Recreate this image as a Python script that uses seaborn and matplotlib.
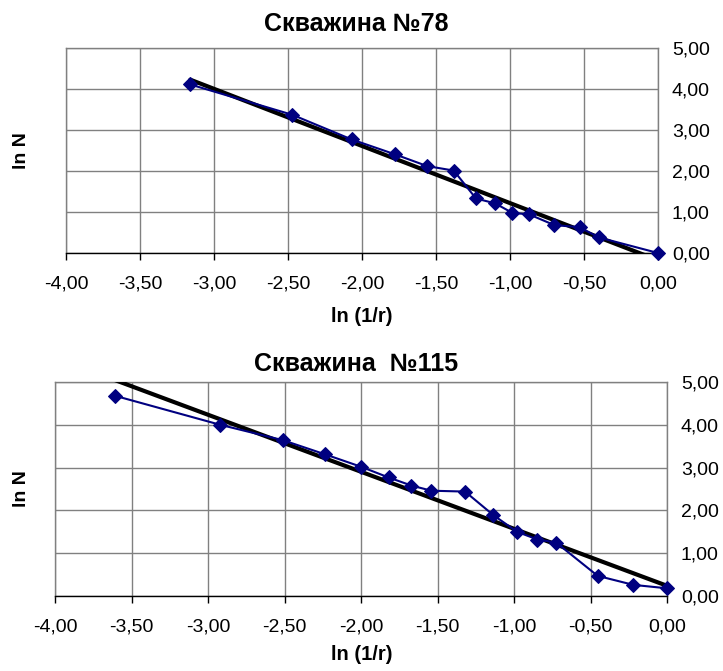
import numpy as np
import pandas as pd
import matplotlib
matplotlib.use("Agg")
import matplotlib.pyplot as plt
import seaborn as sns
from matplotlib.ticker import FuncFormatter

sns.set_style("white")
plt.rcParams['font.family'] = ['Liberation Sans', 'DejaVu Sans']
plt.rcParams['text.color'] = 'black'
plt.rcParams['xtick.color'] = 'black'
plt.rcParams['ytick.color'] = 'black'

# Well 78
x78 = [-3.16, -2.47, -2.07, -1.78, -1.56, -1.38, -1.23, -1.10, -0.985, -0.87, -0.70, -0.53, -0.40, 0.0]
y78 = [4.11, 3.37, 2.77, 2.41, 2.12, 2.01, 1.33, 1.21, 0.98, 0.94, 0.68, 0.63, 0.38, 0.0]
# Well 115
x115 = [-3.61, -2.92, -2.51, -2.235, -2.0, -1.82, -1.67, -1.54, -1.32, -1.135, -0.98, -0.847, -0.725, -0.453, -0.22, 0.0]
y115 = [4.68, 4.00, 3.64, 3.31, 3.02, 2.77, 2.58, 2.46, 2.44, 1.89, 1.50, 1.32, 1.25, 0.47, 0.26, 0.18]

titles = ["Скважина №78", "Скважина  №115"]
xlabel = "ln (1/r)"
ylabel = "ln N"
xticks = [-4.0, -3.5, -3.0, -2.5, -2.0, -1.5, -1.0, -0.5, 0.0]
yticks = [0, 1, 2, 3, 4, 5]

W, H = 723, 671
fig = plt.figure(figsize=(W / 100, H / 100), dpi=100)

def frac(l, t, r, b):
    return [l / W, 1 - b / H, (r - l) / W, (b - t) / H]

boxes = [frac(66, 48, 658, 253), frac(55, 382, 667, 596)]
datasets = [(x78, y78), (x115, y115)]
title_y = [24, 364]
xlab_y = [316, 655]
ylab_y = [151, 489]

fmt = FuncFormatter(lambda v, p: f"{v:.2f}".replace(".", ","))

for i, (box, (xs, ys)) in enumerate(zip(boxes, datasets)):
    ax = fig.add_axes(box)
    df = pd.DataFrame({"x": xs, "y": ys})
    sns.regplot(data=df, x="x", y="y", ax=ax, ci=None, scatter=False,
                truncate=True, line_kws=dict(color="black", lw=3, zorder=3))
    sns.lineplot(data=df, x="x", y="y", ax=ax, sort=False, color="#000080",
                 marker="D", markersize=7, markeredgecolor="#000080", lw=1.5,
                 clip_on=False, zorder=4)
    ax.set_xlim(-4, 0)
    ax.set_ylim(0, 5)
    ax.set_xticks(xticks)
    ax.set_yticks(yticks)
    ax.xaxis.set_major_formatter(fmt)
    ax.yaxis.set_major_formatter(fmt)
    ax.yaxis.tick_right()
    ax.grid(True, color="#808080", lw=1)
    for s in ["top", "left", "right"]:
        ax.spines[s].set_color("#808080")
        ax.spines[s].set_linewidth(1)
    ax.spines["bottom"].set_color("black")
    ax.spines["bottom"].set_linewidth(1)
    ax.tick_params(axis="x", direction="out", length=5, width=1, color="black",
                   labelsize=14, pad=11, bottom=True, labelcolor="black")
    ax.tick_params(axis="y", direction="out", length=0, width=1, color="black",
                   labelsize=14, pad=10, right=True, left=False, labelcolor="black")
    ax.set_xlabel("")
    ax.set_ylabel("")
    fig.text(356 / W, 1 - title_y[i] / H, titles[i], ha="center", va="center",
             fontsize=18, fontweight="bold", color="black")
    fig.text(362 / W, 1 - xlab_y[i] / H, xlabel,
             ha="center", va="center", fontsize=14.5, fontweight="bold", color="black")
    fig.text(22 / W, 1 - ylab_y[i] / H, ylabel, ha="center", va="center",
             rotation=90, fontsize=14, fontweight="bold", color="black")

fig.savefig("out.png", dpi=100)
